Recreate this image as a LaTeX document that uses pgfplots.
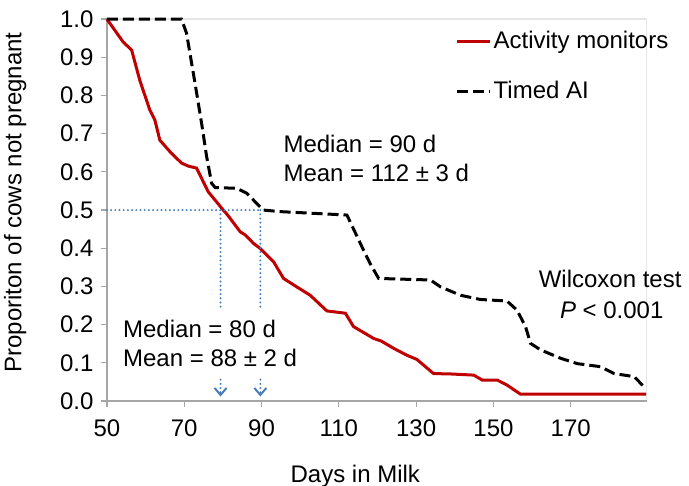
\documentclass[border=0pt]{standalone}
\usepackage{fontspec}
\setmainfont{Liberation Sans}
\usepackage{pgfplots}
\pgfplotsset{compat=1.18}
\usetikzlibrary{arrows.meta}
\definecolor{amred}{HTML}{C00000}
\definecolor{refblue}{HTML}{4A7EBB}
\definecolor{axgray}{HTML}{A6A6A6}
\definecolor{boxgray}{HTML}{E6E6E6}

\begin{document}
\begin{tikzpicture}
\begin{axis}[
    width=270pt, height=191pt, scale only axis,
    xmin=50, xmax=189.7, ymin=0, ymax=1,
    xtick={50,70,90,110,130,150,170},
    ytick={0,0.1,0.2,0.3,0.4,0.5,0.6,0.7,0.8,0.9,1.0},
    yticklabel style={/pgf/number format/.cd, fixed, fixed zerofill, precision=1},
    xticklabel style={yshift=-2.5pt},
    /pgf/number format/assume math mode=true,
    axis lines*=left,
    axis line style={-, axgray, line width=0.6pt},
    axis background/.style={draw=boxgray, line width=0.6pt},
    tick align=outside, major tick length=3.2pt,
    tick style={axgray, line width=0.6pt},
    tick label style={font=\fontsize{12}{14}\selectfont},
    xlabel={Days in Milk},
    ylabel={Proporiton of cows not pregnant},
    label style={font=\fontsize{12}{14}\selectfont},
    xlabel style={at={(axis description cs:0.46,-0.196)}, anchor=center},
    ylabel style={at={(axis description cs:-0.17,0.52)}, anchor=center},
    clip=false,
    legend style={at={(axis description cs:0.634,0.985)}, anchor=north west,
        draw=none, fill=none, font=\fontsize{12}{14}\selectfont,
        row sep=13pt, nodes={inner sep=1pt}},
    legend cell align=left,
    legend image code/.code={\draw[#1] (0pt,0pt) -- (16.5pt,0pt);},
    guide/.style={refblue, line width=1.1pt, line cap=round, dash pattern=on 0pt off 2.1pt, forget plot},
]

% Activity monitors
\addplot[amred, line width=1.5pt] coordinates {
    (50,1.0) (54.2,0.94) (56.4,0.919) (58.5,0.84) (61.1,0.762) (62.4,0.736)
    (63.7,0.683) (66.3,0.653) (69.3,0.623) (71.1,0.615) (73.2,0.61) (76.2,0.548)
    (78,0.526) (80.1,0.50) (81,0.49) (84.5,0.443) (85.8,0.435) (87.9,0.413)
    (89.6,0.40) (93.1,0.365) (95.7,0.321) (99.1,0.299) (102.6,0.277) (106.9,0.236)
    (111.7,0.23) (113.8,0.195) (119,0.164) (121,0.157) (124.2,0.138) (127.6,0.12)
    (130.2,0.109) (134.5,0.072) (138.9,0.071) (144.9,0.068) (147.1,0.055) (151,0.055)
    (153.5,0.042) (157,0.018) (189.5,0.018)
};
\addlegendentry{Activity monitors}

% Timed AI
\addplot[black, line width=1.5pt, dash pattern=on 5.5pt off 2.5pt] coordinates {
    (50,1.0) (69.3,1.0) (70.6,0.963) (72.8,0.832) (74.5,0.727) (75.8,0.64)
    (77.1,0.57) (78,0.559) (83.6,0.557) (86.2,0.544) (88.8,0.517) (90.5,0.5)
    (94.8,0.496) (112.1,0.487) (116.4,0.395) (118.1,0.36) (120.3,0.321) (133.7,0.317)
    (136.3,0.299) (141.5,0.277) (146.6,0.266) (153.5,0.262) (156.1,0.238) (158.3,0.195)
    (159.6,0.151) (162.2,0.134) (167.4,0.112) (171.7,0.098) (177.7,0.09) (181.2,0.072)
    (186.4,0.064) (189,0.037)
};
\addlegendentry{Timed AI}

% median guide lines
\addplot[guide] coordinates {(50,0.5) (89.7,0.5)};
\addplot[guide] coordinates {(79.4,0.5) (79.4,0.247)};
\addplot[guide] coordinates {(89.7,0.5) (89.7,0.247)};
\addplot[guide, -{Straight Barb[width=6pt,length=3.5pt,line width=1pt]}] coordinates {(79.4,0.056) (79.4,0.012)};
\addplot[guide, -{Straight Barb[width=6pt,length=3.5pt,line width=1pt]}] coordinates {(89.7,0.056) (89.7,0.012)};

% annotations
\node[anchor=base west, font=\fontsize{12}{14}\selectfont, inner sep=0pt] at (axis cs:95.6,0.650) {Median = 90 d};
\node[anchor=base west, font=\fontsize{12}{14}\selectfont, inner sep=0pt] at (axis cs:95.6,0.574) {Mean = 112 ± 3 d};
\node[anchor=base west, font=\fontsize{12}{14}\selectfont, inner sep=0pt] at (axis cs:54.1,0.166) {Median = 80 d};
\node[anchor=base west, font=\fontsize{12}{14}\selectfont, inner sep=0pt] at (axis cs:54.1,0.090) {Mean = 88 ± 2 d};
\node[anchor=base, font=\fontsize{12}{14}\selectfont, inner sep=0pt] at (axis cs:180.2,0.298) {Wilcoxon test};
\node[anchor=base, font=\fontsize{12}{14}\selectfont, inner sep=0pt] at (axis cs:180.6,0.216) {\textit{P} < 0.001};

\coordinate (bl) at (rel axis cs:-0.198,-0.22);
\coordinate (tr) at (rel axis cs:1.078,1.05);
\end{axis}
\pgfresetboundingbox
\path (bl) rectangle (tr);
\end{tikzpicture}
\end{document}
